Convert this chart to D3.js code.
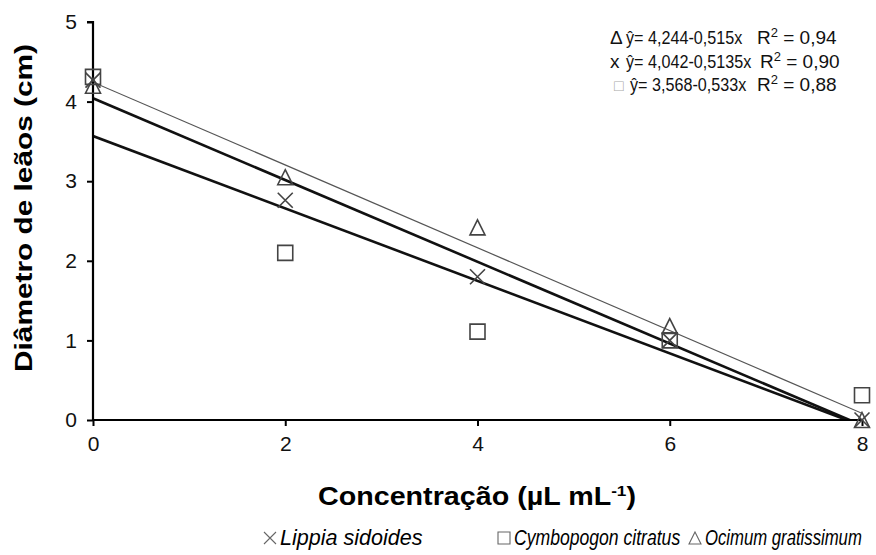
<!DOCTYPE html>
<html>
  <head>
    <meta charset="utf-8">
    <title>Diametro de leaos</title>
    <style>
      body{margin:0; background:#fff;}
      svg{font-family: "Liberation Sans", Arial, sans-serif;}
    </style>
    <script src="https://d3js.org/d3.v7.min.js"></script>
  </head>
  <body>
    <script>

        // concentrations (x)
        var conc = [0, 2, 4, 6, 8];

        // observed diameters per essential oil
        var lippia = [4.27, 2.76, 1.80, 1.00, 0.00];
        var cymbopogon = [4.31, 2.10, 1.11, 1.00, 0.31];
        var ocimum = [4.20, 3.05, 2.42, 1.18, 0.00];

        var seriesNames = ["Lippia sidoides", "Cymbopogon citratus", "Ocimum gratissimum"];
        var seriesSymbols = ["times", "square", "triangle"];

        // fitted lines as drawn: intercept, slope
        var fitIntercepts = [4.244, 4.042, 3.568];
        var fitSlopes = [-0.52, -0.5135, -0.455];
        var fitWidths = [1.2, 2.6, 2.6];

        // equation text
        var eqMarks = ["\u0394", "x", "\u25A1"];
        var eqTexts = ["\u0177= 4,244-0,515x", "\u0177= 4,042-0,5135x", "\u0177= 3,568-0,533x"];
        var r2Texts = ["0,94", "0,90", "0,88"];

        var xTicks = [0, 2, 4, 6, 8];
        var yTicks = [0, 1, 2, 3, 4, 5];

        var width = 876, height = 555;
        var margin = {left: 93, right: 14, top: 22, bottom: 135};

        var svg = d3.select("body").append("svg")
            .attr("width", width)
            .attr("height", height);

        var x = d3.scaleLinear().domain([0, 8]).range([margin.left, width - margin.right]);
        var y = d3.scaleLinear().domain([0, 5]).range([height - margin.bottom, margin.top]);

        // clip for fitted lines (they run below zero near x = 8)
        svg.append("clipPath").attr("id", "plot")
            .append("rect")
            .attr("x", x(0)).attr("y", y(5))
            .attr("width", x(8) - x(0)).attr("height", y(0) - y(5));

        // marker paths, size in px
        function marker(type, s) {
            var p = d3.path(), h = s / 2;
            if (type === "square") {
                p.rect(-h, -h, s, s);
            } else if (type === "times") {
                p.moveTo(-h, -h); p.lineTo(h, h);
                p.moveTo(h, -h); p.lineTo(-h, h);
            } else {
                p.moveTo(0, -h); p.lineTo(h, h); p.lineTo(-h, h); p.closePath();
            }
            return p.toString();
        }

        // fitted lines
        var line = d3.line()
            .x(function (d) { return x(d[0]); })
            .y(function (d) { return y(d[1]); });

        svg.append("g").attr("clip-path", "url(#plot)")
            .selectAll("path")
            .data(fitIntercepts)
            .enter().append("path")
            .attr("d", function (b, i) {
                return line([[0, b], [8, b + fitSlopes[i] * 8]]);
            })
            .attr("fill", "none")
            .attr("stroke", function (b, i) { return i === 0 ? "#555" : "#111"; })
            .attr("stroke-width", function (b, i) { return fitWidths[i]; });

        // axes
        var yAxis = svg.append("g")
            .attr("transform", "translate(" + x(0) + ",0)")
            .call(d3.axisLeft(y).tickValues(yTicks).tickSize(6).tickPadding(10).tickFormat(d3.format("d")));
        var xAxis = svg.append("g")
            .attr("transform", "translate(0," + y(0) + ")")
            .call(d3.axisBottom(x).tickValues(xTicks).tickSize(6).tickPadding(10).tickFormat(d3.format("d")));

        [xAxis, yAxis].forEach(function (a) {
            a.select(".domain").attr("stroke", "#000").attr("stroke-width", 2.2);
            a.selectAll(".tick line").attr("stroke", "#000").attr("stroke-width", 2);
            a.selectAll("text").attr("font-size", 21).attr("fill", "#111")
                .attr("font-family", "Liberation Sans, Arial, sans-serif");
        });
        yAxis.select(".domain").attr("d", "M-6," + y(5) + "H0V" + y(0));
        xAxis.select(".domain").attr("d", "M" + x(0) + ",0H" + x(8));

        // points
        var allSeries = [lippia, cymbopogon, ocimum];
        var drawOrder = [2, 1, 0];
        drawOrder.forEach(function (si) {
            svg.append("g").selectAll("path")
                .data(allSeries[si])
                .enter().append("path")
                .attr("transform", function (d, i) {
                    return "translate(" + x(conc[i]) + "," + y(d) + ")";
                })
                .attr("d", marker(seriesSymbols[si], 15))
                .attr("fill", "none")
                .attr("stroke", "#444")
                .attr("stroke-width", 1.6);
        });

        // axis titles
        svg.append("text")
            .attr("transform", "translate(24,208) rotate(-90)")
            .attr("text-anchor", "middle")
            .attr("dy", "0.35em")
            .attr("font-size", 23)
            .attr("font-weight", "bold")
            .attr("textLength", 328)
            .attr("lengthAdjust", "spacingAndGlyphs")
            .text("Di\u00e2metro de le\u00e3os (cm)");

        var xt = svg.append("text")
            .attr("x", 477)
            .attr("y", 505)
            .attr("text-anchor", "middle")
            .attr("font-size", 25)
            .attr("font-weight", "bold")
            .attr("textLength", 318)
            .attr("lengthAdjust", "spacingAndGlyphs");
        xt.append("tspan").text("Concentra\u00e7\u00e3o (\u00b5L mL");
        xt.append("tspan").attr("font-size", 15).attr("dy", -9).text("-1");
        xt.append("tspan").attr("dy", 9).text(")");

        // equations (condensed by a horizontal scale)
        var eqX = [626, 626, 630], r2X = [757, 760, 757];
        var eq = svg.append("g").attr("font-size", 19).attr("fill", "#111");
        eqTexts.forEach(function (t, i) {
            var yy = 44 + i * 23.5;
            eq.append("text").attr("x", i === 2 ? 614 : 610).attr("y", yy)
                .attr("font-size", i === 2 ? 16 : 19)
                .attr("fill", i === 2 ? "#aaa" : "#111")
                .text(eqMarks[i]);
            eq.append("text")
                .attr("transform", "translate(" + eqX[i] + "," + yy + ") scale(0.85,1)")
                .text(t);
            var r = eq.append("text").attr("x", r2X[i]).attr("y", yy);
            r.append("tspan").text("R");
            r.append("tspan").attr("font-size", 13).attr("dy", -7).text("2");
            r.append("tspan").attr("dy", 7).text(" = " + r2Texts[i]);
        });

        // legend at bottom
        var legX = [263, 497, 688];
        var legScale = [0.98, 0.8, 0.76];
        var leg = svg.append("g");
        seriesNames.forEach(function (n, i) {
            var gx = legX[i];
            leg.append("path")
                .attr("transform", "translate(" + (gx + 7) + ",538)")
                .attr("d", marker(seriesSymbols[i], 12))
                .attr("fill", "none")
                .attr("stroke", "#666")
                .attr("stroke-width", 1.1);
            leg.append("text")
                .attr("transform", "translate(" + (gx + 17) + ",545) scale(" + legScale[i] + ",1)")
                .attr("font-size", 22)
                .attr("font-style", "italic")
                .text(n);
        });

    </script>
  </body>
</html>
